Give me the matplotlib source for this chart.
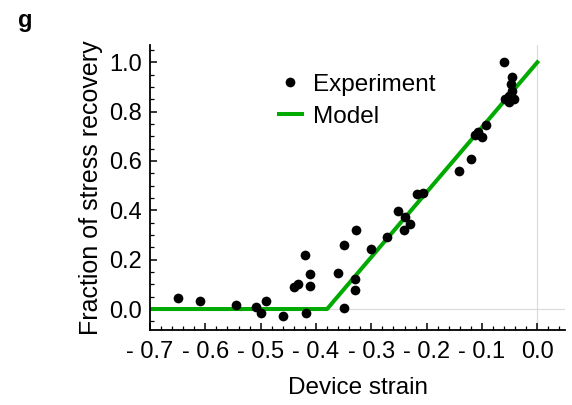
import matplotlib
matplotlib.use("Agg")
import matplotlib.pyplot as plt
import numpy as np
from matplotlib.ticker import FixedLocator, MultipleLocator, FuncFormatter

plt.rcParams['font.family'] = ['Liberation Sans', 'DejaVu Sans']

# experiment points (device strain, fraction of stress recovery)
exp_strain = [-0.649, -0.610, -0.545, -0.509, -0.500, -0.490, -0.459, -0.439,
              -0.433, -0.420, -0.410, -0.410, -0.418, -0.360, -0.350, -0.350,
              -0.330, -0.330, -0.327, -0.301, -0.272, -0.241, -0.230, -0.252,
              -0.240, -0.217, -0.207, -0.141, -0.120, -0.112, -0.107, -0.100,
              -0.093, -0.060, -0.045, -0.047, -0.046, -0.059, -0.051, -0.043,
              -0.052]
exp_recovery = [0.046, 0.031, 0.016, 0.007, -0.016, 0.034, -0.030, 0.088,
                0.100, 0.218, 0.142, 0.093, -0.018, 0.145, 0.261, 0.004,
                0.123, 0.076, 0.322, 0.243, 0.291, 0.322, 0.343, 0.398,
                0.374, 0.468, 0.472, 0.558, 0.608, 0.707, 0.718, 0.698,
                0.744, 1.003, 0.942, 0.910, 0.883, 0.852, 0.841, 0.852,
                0.865]

# piecewise linear model: zero below threshold, then linear up to 1 at zero strain
model_strain = [-0.70, -0.38, 0.0]
model_recovery = [0.0, 0.0, 1.0]

xticks = [-0.7, -0.6, -0.5, -0.4, -0.3, -0.2, -0.1, 0.0]
yticks = [0.0, 0.2, 0.4, 0.6, 0.8, 1.0]


def strain_fmt(v, pos):
    if abs(v) < 1e-9:
        return '0.0'
    return '- %.1f' % abs(v) if v < 0 else '%.1f' % v


fig = plt.figure(figsize=(5.72, 4.05), dpi=100)
ax = fig.add_axes([150 / 572, 75 / 405, 415 / 572, 285 / 405])

# Mathematica style axes lines through the origin
ax.axhline(0, color='#dcdcdc', lw=0.9, zorder=0)
ax.axvline(0, color='#dcdcdc', lw=0.9, zorder=0)

ax.plot(model_strain, model_recovery, color='#00aa00', lw=2.9, label='Model', zorder=2)
ax.plot(exp_strain, exp_recovery, 'o', color='black', ms=7, mew=0,
        label='Experiment', zorder=3)

ax.set_xlim(-0.70, 0.05)
ax.set_ylim(-0.085, 1.07)

ax.xaxis.set_major_locator(FixedLocator(xticks))
ax.xaxis.set_minor_locator(MultipleLocator(0.02))
ax.xaxis.set_major_formatter(FuncFormatter(strain_fmt))
ax.yaxis.set_major_locator(FixedLocator(yticks))
ax.yaxis.set_minor_locator(MultipleLocator(0.05))
ax.yaxis.set_major_formatter(FuncFormatter(lambda v, p: '%.1f' % v))

for s in ['top', 'right']:
    ax.spines[s].set_visible(False)
for s in ['left', 'bottom']:
    ax.spines[s].set_linewidth(1.3)

ax.tick_params(which='major', direction='in', length=5, width=1.1,
               labelsize=17, pad=6)
ax.tick_params(which='minor', direction='in', length=3, width=0.9)
ax.tick_params(axis='x', which='major', pad=8)

ax.set_xlabel('Device strain', fontsize=17.5, labelpad=10)
ax.set_ylabel('Fraction of stress recovery', fontsize=18, labelpad=4)

handles, labels = ax.get_legend_handles_labels()
ax.legend(handles[::-1], labels[::-1], loc='upper left',
          bbox_to_anchor=(0.31, 0.90), frameon=False, fontsize=17.5,
          handlelength=0.95, handletextpad=0.45, labelspacing=0.42,
          borderpad=0, borderaxespad=0)

fig.text(18 / 572, 1 - 20 / 405, 'g', fontsize=17, fontweight='bold',
         ha='left', va='center')

fig.savefig('out.png', dpi=100)
